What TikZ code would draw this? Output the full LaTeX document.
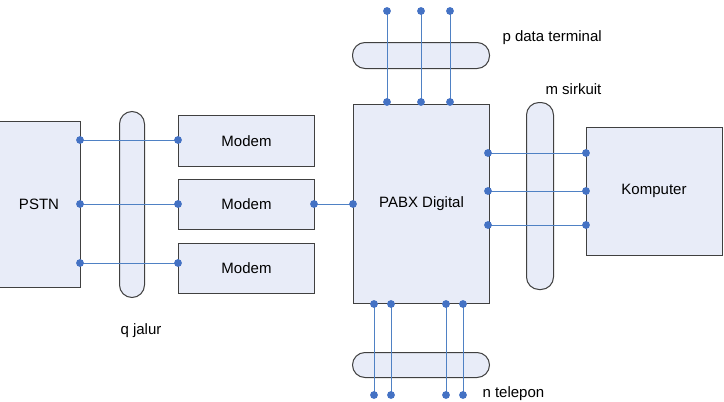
\documentclass[tikz,border=0pt]{standalone}
\usepackage{fontspec}
\setmainfont{Liberation Sans}
\definecolor{boxfill}{RGB}{232,236,248}
\definecolor{boxline}{RGB}{64,64,64}
\definecolor{wireblue}{RGB}{79,129,196}
\definecolor{dotblue}{RGB}{68,114,196}
\begin{document}
\begin{tikzpicture}[x=1pt,y=-1pt,
  every node/.style={font=\fontsize{15}{18}\selectfont},
  box/.style={draw=boxline,fill=boxfill,line width=1pt,inner sep=0pt,anchor=north west},
  pill/.style={draw=boxline,fill=boxfill,line width=1pt,inner sep=0pt,anchor=north west,rounded corners=12.5pt},
  wire/.style={draw=wireblue,line width=1pt},
  dotc/.style={fill=dotblue}]
\useasboundingbox (0,0) rectangle (724,402);
% boxes
\node[box,minimum width=83,minimum height=166] (pstn) at (-3,121) {PSTN};
\node[box,minimum width=136,minimum height=51] (md1) at (178,115) {Modem};
\node[box,minimum width=136,minimum height=50] (md2) at (178,179) {Modem};
\node[box,minimum width=136,minimum height=50] (md3) at (178,243) {Modem};
\node[box,minimum width=136,minimum height=199] (pabx) at (353,104) {PABX Digital};
\node[box,minimum width=136,minimum height=128] (komp) at (586,127) {};
\node at (654,191) (kompl) {Komputer};
% pills
\node[pill,minimum width=25,minimum height=186] (qp) at (119,111) {};
\node[pill,minimum width=27,minimum height=187] (mp) at (526,102) {};
\node[pill,minimum width=137,minimum height=26] (tp) at (352,42) {};
\node[pill,minimum width=137,minimum height=25] (bp) at (352,352) {};
% labels
\node[anchor=west] (lp) at (499,38) {p data terminal};
\node[anchor=west] (lm) at (542,89) {m sirkuit};
\node[anchor=west] (ln) at (479,394) {n telepon};
\node[anchor=west] (lq) at (117,331) {q jalur};
% coordinates
\coordinate (a1) at (80,140); \coordinate (b1) at (178,140);
\coordinate (a2) at (80,204); \coordinate (b2) at (178,204);
\coordinate (a3) at (80,263); \coordinate (b3) at (178,263);
\coordinate (c1) at (314,204); \coordinate (d1) at (353,204);
\coordinate (e1) at (488,153); \coordinate (f1) at (586,153);
\coordinate (e2) at (488,191); \coordinate (f2) at (586,191);
\coordinate (e3) at (488,225); \coordinate (f3) at (586,225);
\coordinate (g1) at (387,102); \coordinate (h1) at (387,11);
\coordinate (g2) at (421,102); \coordinate (h2) at (421,11);
\coordinate (g3) at (450,102); \coordinate (h3) at (450,11);
\coordinate (i1) at (374,304); \coordinate (j1) at (374,395);
\coordinate (i2) at (391,304); \coordinate (j2) at (391,395);
\coordinate (i3) at (446,304); \coordinate (j3) at (446,395);
\coordinate (i4) at (463,304); \coordinate (j4) at (463,395);
% wires
\foreach \u/\v in {a1/b1,a2/b2,a3/b3,c1/d1,e1/f1,e2/f2,e3/f3,g1/h1,g2/h2,g3/h3,i1/j1,i2/j2,i3/j3,i4/j4}
  \draw[wire] (\u) -- (\v);
\foreach \p in {a1,b1,a2,b2,a3,b3,c1,d1,e1,f1,e2,f2,e3,f3,g1,h1,g2,h2,g3,h3,i1,j1,i2,j2,i3,j3,i4,j4}
  \fill[dotc] (\p) circle (3.9);
\end{tikzpicture}
\end{document}
